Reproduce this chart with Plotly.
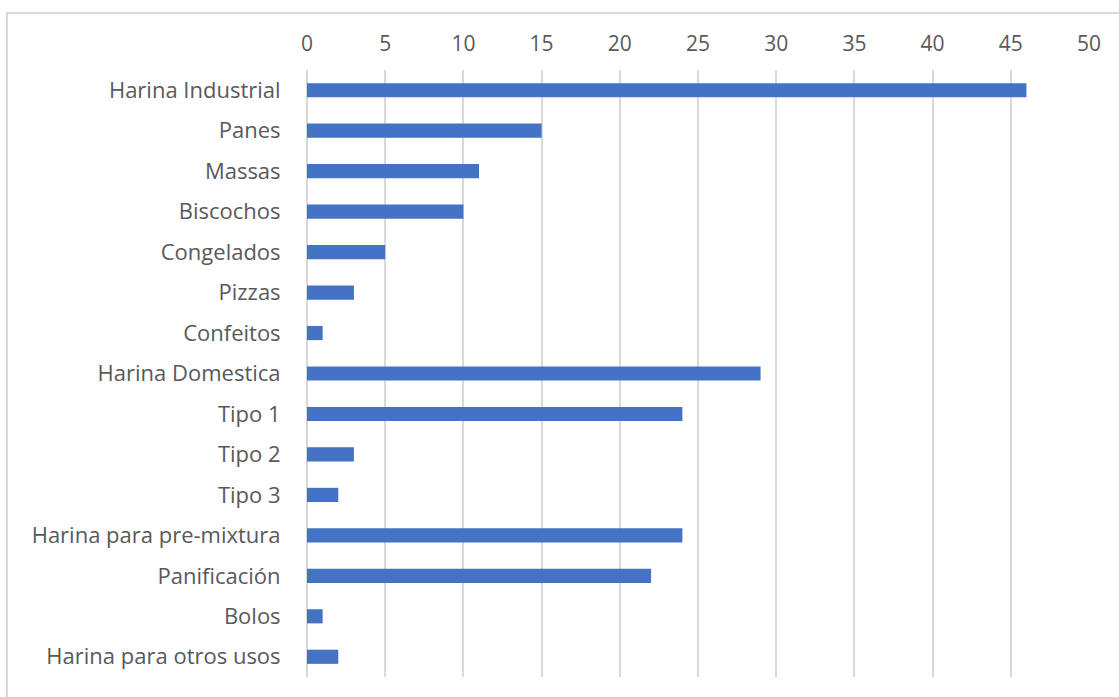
import plotly.graph_objects as go

categories = ["Harina Industrial", "Panes", "Massas", "Biscochos", "Congelados", "Pizzas",
              "Confeitos", "Harina Domestica", "Tipo 1", "Tipo 2", "Tipo 3",
              "Harina para pre-mixtura", "Panificación", "Bolos", "Harina para otros usos"]
values = [46, 15, 11, 10, 5, 3, 1, 29, 24, 3, 2, 24, 22, 1, 2]
tick_vals = [0, 5, 10, 15, 20, 25, 30, 35, 40, 45, 50]

W, H = 1119, 697
L, R, T, B = 307, 30, 70, 20
pw, ph = W - L - R, H - T - B

fig = go.Figure(go.Bar(
    y=categories, x=values, orientation="h",
    marker=dict(color="#4472C4", line=dict(width=0)),
))

fig.update_layout(
    width=W, height=H,
    margin=dict(l=L, r=R, t=T, b=B),
    plot_bgcolor="white", paper_bgcolor="white",
    bargap=0.65, showlegend=False,
    font=dict(family="Open Sans", size=16, color="#595959"),
    xaxis=dict(side="top", range=[0, 50], tickvals=tick_vals, showgrid=True,
               gridcolor="#D9D9D9", gridwidth=2, zeroline=True, zerolinecolor="#D9D9D9",
               zerolinewidth=2, ticks="outside", ticklen=10, tickcolor="rgba(0,0,0,0)",
               tickfont=dict(size=21, color="#595959"), fixedrange=True),
    yaxis=dict(autorange="reversed", showgrid=False, ticks="outside", ticklen=21,
               tickcolor="rgba(0,0,0,0)", tickfont=dict(size=22, color="#595959")),
    shapes=[dict(type="rect", xref="paper", yref="paper",
                 x0=(7 - L) / pw, x1=(W + 20 - L) / pw,
                 y0=-(B + 20) / ph, y1=1 + (T - 13) / ph,
                 line=dict(color="#D9D9D9", width=2), fillcolor="rgba(0,0,0,0)", layer="below")],
)

fig.write_html("out.html")
